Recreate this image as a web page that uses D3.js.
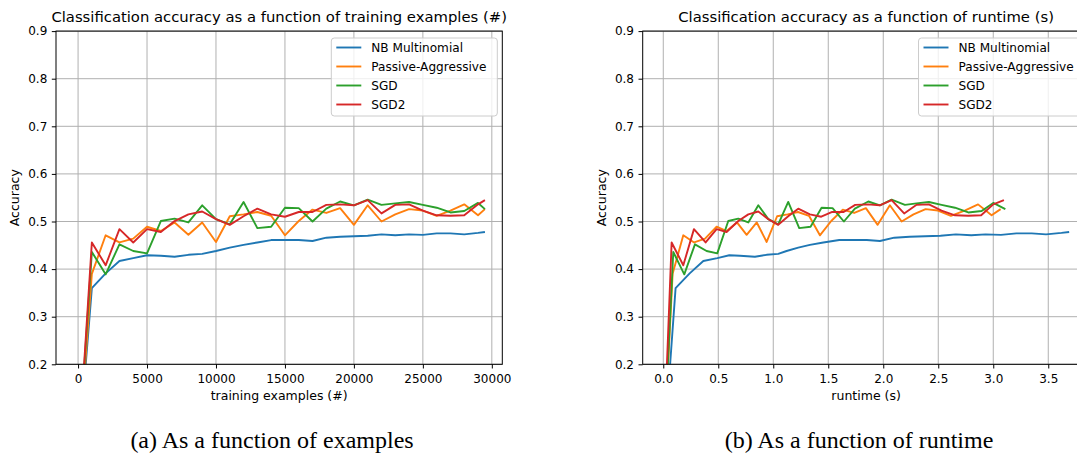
<!DOCTYPE html>
<html>
<head>
<meta charset="utf-8">
<script src="https://cdn.jsdelivr.net/npm/d3@7/dist/d3.min.js"></script>
<style>
  body { margin: 0; background: #fff; }
  svg { display: block; font-family: "DejaVu Sans", sans-serif; }
</style>
</head>
<body>
<svg id="chart"></svg>
<script>
// classifier names and colours
var classifiers = ["NB Multinomial", "Passive-Aggressive", "SGD", "SGD2"];
var colors = ["#1f77b4", "#ff7f0e", "#2ca02c", "#d62728"];

// training examples seen at each evaluation
var examples = [0, 1000, 2000, 3000, 4000, 5000, 6000, 7000, 8000, 9000, 10000,
  11000, 12000, 13000, 14000, 15000, 16000, 17000, 18000, 19000, 20000,
  21000, 22000, 23000, 24000, 25000, 26000, 27000, 28000, 29000, 29500];

// accuracy history per classifier
var accNB = [0, 0.360, 0.391, 0.417, 0.423, 0.429, 0.428, 0.426, 0.430, 0.432, 0.438,
  0.445, 0.451, 0.456, 0.461, 0.461, 0.461, 0.459, 0.466, 0.468, 0.469,
  0.470, 0.473, 0.471, 0.473, 0.472, 0.475, 0.475, 0.473, 0.476, 0.478];
var accPA = [0, 0.390, 0.471, 0.456, 0.464, 0.489, 0.480, 0.498, 0.472, 0.498, 0.457,
  0.511, 0.515, 0.520, 0.512, 0.471, 0.501, 0.525, 0.518, 0.528, 0.493,
  0.534, 0.500, 0.515, 0.526, 0.523, 0.512, 0.523, 0.536, 0.513, 0.526];
var accSGD = [0, 0.436, 0.389, 0.452, 0.438, 0.433, 0.501, 0.506, 0.498, 0.534, 0.505,
  0.494, 0.541, 0.486, 0.489, 0.529, 0.528, 0.500, 0.527, 0.542, 0.534,
  0.546, 0.535, 0.538, 0.541, 0.535, 0.529, 0.519, 0.522, 0.539, 0.526];
var accSGD2 = [0, 0.456, 0.408, 0.484, 0.456, 0.484, 0.478, 0.501, 0.515, 0.521, 0.505,
  0.493, 0.511, 0.527, 0.515, 0.510, 0.520, 0.520, 0.535, 0.536, 0.534,
  0.545, 0.517, 0.535, 0.536, 0.523, 0.513, 0.512, 0.513, 0.536, 0.545];

// runtime (s) at each evaluation, per classifier
var timeNB = [0, 0.112, 0.240, 0.364, 0.491, 0.600, 0.697, 0.833, 0.939, 1.045, 1.121,
  1.227, 1.333, 1.455, 1.600, 1.730, 1.850, 1.970, 2.100, 2.240, 2.380,
  2.520, 2.660, 2.800, 2.930, 3.070, 3.210, 3.350, 3.480, 3.620, 3.690];
var timePA = [0, 0.085, 0.182, 0.280, 0.380, 0.485, 0.576, 0.670, 0.758, 0.850, 0.940,
  1.035, 1.130, 1.225, 1.325, 1.424, 1.527, 1.632, 1.736, 1.842, 1.949,
  2.060, 2.167, 2.275, 2.385, 2.497, 2.615, 2.740, 2.862, 2.985, 3.067];
var timeSGD = [0, 0.091, 0.191, 0.288, 0.394, 0.491, 0.591, 0.682, 0.773, 0.864, 0.955,
  1.045, 1.136, 1.236, 1.339, 1.439, 1.539, 1.642, 1.742, 1.864, 1.970,
  2.076, 2.197, 2.303, 2.415, 2.530, 2.652, 2.773, 2.894, 3.000, 3.110];
var timeSGD2 = [0, 0.076, 0.182, 0.279, 0.385, 0.485, 0.576, 0.682, 0.773, 0.864, 0.955,
  1.045, 1.136, 1.227, 1.333, 1.436, 1.536, 1.640, 1.745, 1.862, 1.968,
  2.076, 2.190, 2.303, 2.415, 2.530, 2.652, 2.773, 2.890, 3.000, 3.097];

// tick values
var accuracyTicks = [0.2, 0.3, 0.4, 0.5, 0.6, 0.7, 0.8, 0.9];
var examplesTicks = [0, 5000, 10000, 15000, 20000, 25000, 30000];
var runtimeTicks = [0, 0.5, 1.0, 1.5, 2.0, 2.5, 3.0, 3.5];

var accuracies = [accNB, accPA, accSGD, accSGD2];
var runtimes = [timeNB, timePA, timeSGD, timeSGD2];

var svgWidth = 1077, svgHeight = 456;
var svg = d3.select("#chart")
  .attr("width", svgWidth)
  .attr("height", svgHeight)
  .attr("viewBox", `0 0 ${svgWidth} ${svgHeight}`);

var plotTop = 31.1, plotBottom = 364.3;

drawPanel({
  id: "a",
  left: 56, right: 502.3,
  xDomain: [-1600, 30760],
  xTicks: examplesTicks,
  xFormat: d3.format("d"),
  xs: classifiers.map(() => examples),
  title: "Classification accuracy as a function of training examples (#)",
  xLabel: "training examples (#)",
  caption: "(a) As a function of examples",
  captionX: 272
});

drawPanel({
  id: "b",
  left: 642.7, right: 1089.5,
  xDomain: [-0.187, 3.875],
  xTicks: runtimeTicks,
  xFormat: d3.format(".1f"),
  xs: runtimes,
  title: "Classification accuracy as a function of runtime (s)",
  xLabel: "runtime (s)",
  caption: "(b) As a function of runtime",
  captionX: 859
});

function drawPanel(p) {
  var x = d3.scaleLinear().domain(p.xDomain).range([p.left, p.right]);
  var y = d3.scaleLinear().domain([0.2, 0.9]).range([plotBottom, plotTop]);
  var g = svg.append("g");

  // grid
  g.append("g").selectAll("line").data(p.xTicks).enter().append("line")
    .attr("x1", d => x(d)).attr("x2", d => x(d))
    .attr("y1", plotTop).attr("y2", plotBottom)
    .attr("stroke", "#b0b0b0").attr("stroke-width", 1);
  g.append("g").selectAll("line").data(accuracyTicks).enter().append("line")
    .attr("x1", p.left).attr("x2", p.right)
    .attr("y1", d => y(d)).attr("y2", d => y(d))
    .attr("stroke", "#b0b0b0").attr("stroke-width", 1);

  // lines, clipped to the axes
  svg.append("clipPath").attr("id", "clip-" + p.id)
    .append("rect")
    .attr("x", p.left).attr("y", plotTop)
    .attr("width", p.right - p.left).attr("height", plotBottom - plotTop);

  var line = d3.line().x(d => x(d[0])).y(d => y(d[1]));
  g.append("g").attr("clip-path", `url(#clip-${p.id})`)
    .selectAll("path")
    .data(classifiers.map((c, i) => d3.zip(p.xs[i], accuracies[i])))
    .enter().append("path")
    .attr("d", line)
    .attr("fill", "none")
    .attr("stroke", (d, i) => colors[i])
    .attr("stroke-width", 1.9)
    .attr("stroke-linejoin", "round");

  // axes
  var xAxis = g.append("g")
    .attr("transform", `translate(0,${plotBottom})`)
    .call(d3.axisBottom(x).tickValues(p.xTicks).tickFormat(p.xFormat)
      .tickSize(4.2).tickPadding(5.5).tickSizeOuter(0));
  var yAxis = g.append("g")
    .attr("transform", `translate(${p.left},0)`)
    .call(d3.axisLeft(y).tickValues(accuracyTicks).tickFormat(d3.format(".1f"))
      .tickSize(4.2).tickPadding(4.5).tickSizeOuter(0));
  [xAxis, yAxis].forEach(a => {
    a.select(".domain").remove();
    a.selectAll("text").attr("font-size", 12).attr("fill", "#000")
      .attr("font-family", "DejaVu Sans");
    a.selectAll("line").attr("stroke", "#000").attr("stroke-width", 1);
  });

  // spines
  g.append("rect")
    .attr("x", p.left).attr("y", plotTop)
    .attr("width", p.right - p.left).attr("height", plotBottom - plotTop)
    .attr("fill", "none").attr("stroke", "#000").attr("stroke-width", 1);

  // texts
  g.append("text")
    .attr("x", (p.left + p.right) / 2).attr("y", 22)
    .attr("text-anchor", "middle").attr("font-size", 14.8)
    .text(p.title);
  g.append("text")
    .attr("x", (p.left + p.right) / 2).attr("y", 400)
    .attr("text-anchor", "middle").attr("font-size", 12.5)
    .text(p.xLabel);
  g.append("text")
    .attr("transform", `translate(${p.left - 37},${(plotTop + plotBottom) / 2}) rotate(-90)`)
    .attr("text-anchor", "middle").attr("font-size", 12.5)
    .text("Accuracy");
  g.append("text")
    .attr("x", p.captionX).attr("y", 448)
    .attr("text-anchor", "middle").attr("font-size", 24)
    .attr("font-family", "Liberation Serif")
    .text(p.caption);

  // legend
  var legW = 166, legH = 78;
  var legX = p.right - 5 - legW, legY = 38;
  var leg = g.append("g").attr("transform", `translate(${legX},${legY})`);
  leg.append("rect")
    .attr("width", legW).attr("height", legH).attr("rx", 3)
    .attr("fill", "#fff").attr("fill-opacity", 0.8)
    .attr("stroke", "#cccccc").attr("stroke-width", 1);
  var item = leg.selectAll("g.item").data(classifiers).enter().append("g")
    .attr("class", "item")
    .attr("transform", (d, i) => `translate(0,${9.5 + i * 19})`);
  item.append("line")
    .attr("x1", 5).attr("x2", 30)
    .attr("stroke", (d, i) => colors[i]).attr("stroke-width", 1.9);
  item.append("text")
    .attr("x", 40).attr("dy", "0.35em").attr("font-size", 12.1)
    .text(d => d);
}
</script>
</body>
</html>
